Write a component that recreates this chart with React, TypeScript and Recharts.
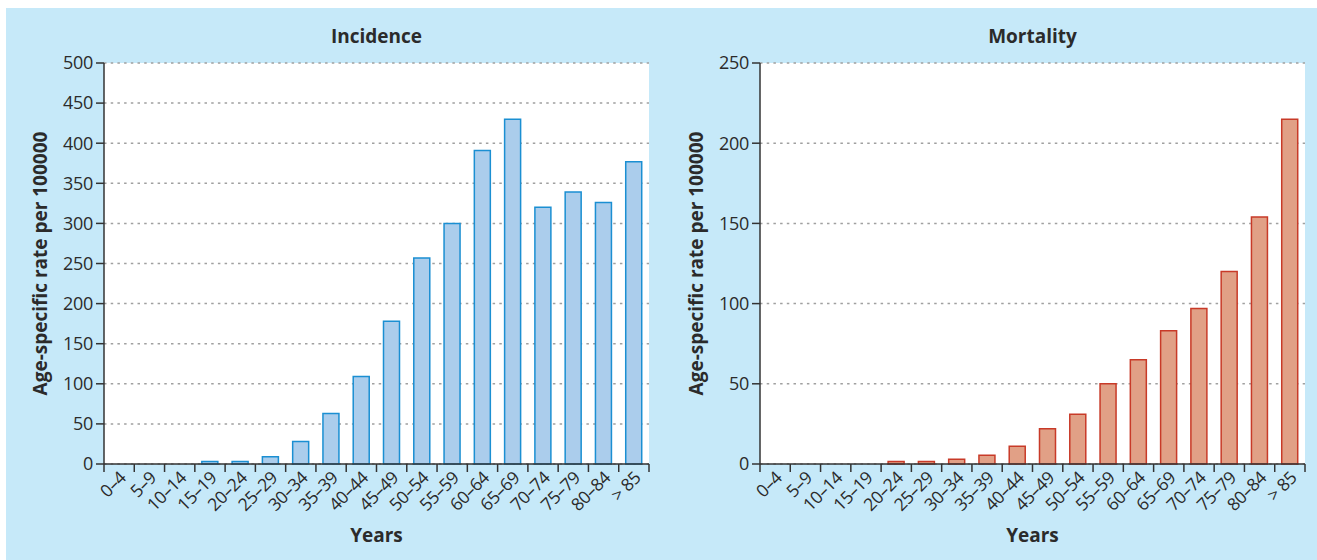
import React from 'react';
import { BarChart, Bar, XAxis, YAxis, CartesianGrid, Label } from 'recharts';

const ageGroups = [
  '0–4', '5–9', '10–14', '15–19', '20–24', '25–29', '30–34', '35–39', '40–44',
  '45–49', '50–54', '55–59', '60–64', '65–69', '70–74', '75–79', '80–84', '> 85',
];
const incidence = [0, 0, 0, 3, 3, 9, 28, 63, 109, 178, 257, 300, 391, 430, 320, 339, 326, 377];
const mortality = [0, 0, 0, 0, 1.5, 1.5, 3, 5.5, 11, 22, 31, 50, 65, 83, 97, 120, 154, 215];
const incidenceTicks = [0, 50, 100, 150, 200, 250, 300, 350, 400, 450, 500];
const mortalityTicks = [0, 50, 100, 150, 200, 250];

const FONT = '"Open Sans", sans-serif';
const TEXT = '#2b2b2b';
const AXIS = '#333';
const TICK_SIZE = 8;
const TICK_MARGIN = 2;

const XTick = (props: any) => {
  const { x, y, payload, index, visibleTicksCount } = props;
  const off = payload?.offset ?? 0;
  const axisY = y - TICK_SIZE - TICK_MARGIN;
  const tx = x + 3;
  const ty = y;
  return (
    <g>
      <line x1={x - off} x2={x - off} y1={axisY} y2={axisY + TICK_SIZE} stroke={AXIS} strokeWidth={1.5} />
      {index === visibleTicksCount - 1 && (
        <line x1={x + off} x2={x + off} y1={axisY} y2={axisY + TICK_SIZE} stroke={AXIS} strokeWidth={1.5} />
      )}
      <text
        x={tx}
        y={ty}
        transform={`rotate(-45, ${tx}, ${ty})`}
        textAnchor="end"
        dy="0.4em"
        fill={TEXT}
        fontSize={17.5}
        fontFamily={FONT}
        letterSpacing={-0.4}
      >
        {payload.value}
      </text>
    </g>
  );
};

const YTitle = ({ viewBox }: any) => (
  <text
    x={viewBox.x + 40}
    y={viewBox.y + viewBox.height / 2}
    transform={`rotate(-90, ${viewBox.x + 40}, ${viewBox.y + viewBox.height / 2})`}
    textAnchor="middle"
    dominantBaseline="central"
    fill={TEXT}
    fontSize={19}
    fontWeight={700}
    fontFamily={FONT}
  >
    Age-specific rate per 100000
  </text>
);

const XTitle = ({ viewBox }: any) => (
  <text
    x={viewBox.x + viewBox.width / 2}
    y={viewBox.y + 71}
    textAnchor="middle"
    dominantBaseline="central"
    fill={TEXT}
    fontSize={19}
    fontWeight={700}
    fontFamily={FONT}
  >
    Years
  </text>
);

interface PanelProps {
  title: string;
  values: number[];
  ticks: number[];
  fill: string;
  stroke: string;
  left: number;
}

function Panel({ title, values, ticks, fill, stroke, left }: PanelProps) {
  const data = ageGroups.map((age, i) => ({ age, value: values[i] }));
  return (
    <div style={{ position: 'absolute', left, top: 0, width: 660, height: 560 }}>
      <div
        style={{
          position: 'absolute',
          left: 104,
          top: 23,
          width: 545,
          textAlign: 'center',
          fontFamily: FONT,
          fontWeight: 700,
          fontSize: 19,
          color: TEXT,
        }}
      >
        {title}
      </div>
      <BarChart width={660} height={560} data={data} margin={{ top: 63, right: 11, bottom: 0, left: 0 }}>
        <CartesianGrid horizontal vertical={false} stroke="#a0a0a0" strokeWidth={1.5} strokeDasharray="2.5 4.2" fill="#fff" />
        <XAxis
          dataKey="age"
          height={96}
          interval={0}
          tickLine={false}
          tickSize={TICK_SIZE}
          tickMargin={TICK_MARGIN}
          axisLine={{ stroke: AXIS, strokeWidth: 1.5 }}
          tick={<XTick />}
        >
          <Label content={<XTitle />} />
        </XAxis>
        <YAxis
          width={104}
          domain={[ticks[0], ticks[ticks.length - 1]]}
          ticks={ticks}
          interval={0}
          tickSize={TICK_SIZE}
          tickMargin={3}
          tickLine={{ stroke: AXIS, strokeWidth: 1.5 }}
          axisLine={{ stroke: AXIS, strokeWidth: 1.5 }}
          tick={{ fill: TEXT, fontSize: 18, fontFamily: FONT, letterSpacing: -0.3 }}
        >
          <Label content={<YTitle />} />
        </YAxis>
        <Bar dataKey="value" barSize={16} fill={fill} stroke={stroke} strokeWidth={1.5} isAnimationActive={false} />
      </BarChart>
    </div>
  );
}

export default function App() {
  return (
    <div style={{ position: 'absolute', left: 0, top: 0, width: 1317, height: 560, background: '#fff' }}>
      <div style={{ position: 'absolute', left: 6, top: 8, width: 1311, height: 552, background: '#c6e9f9' }} />
      <Panel title="Incidence" values={incidence} ticks={incidenceTicks} fill="#abcdec" stroke="#1b8fd2" left={0} />
      <Panel title="Mortality" values={mortality} ticks={mortalityTicks} fill="#e1a086" stroke="#c83a28" left={656} />
    </div>
  );
}
